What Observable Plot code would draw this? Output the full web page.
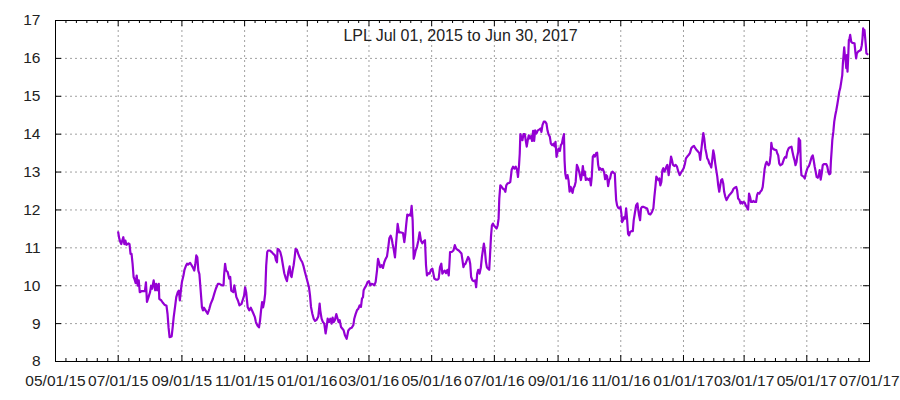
<!DOCTYPE html>
<html><head><meta charset="utf-8">
<script src="https://cdn.jsdelivr.net/npm/d3@7"></script>
<script src="https://cdn.jsdelivr.net/npm/@observablehq/plot@0.6"></script>
<style>html,body{margin:0;padding:0;background:#fff} svg{display:block}</style>
</head><body><div id="chart"></div>
<script>
const titleText = "LPL Jul 01, 2015 to Jun 30, 2017";
const startDate = "2015-07-01";
// calendar days after startDate
const days = [0,1,2,3,4,5,6,7,8,10,11,12,13,14,15,16,17,18,19,20,21,23,26,27,28,29.5,31,32,33,34.5,36,37,38,39.5,40,42,43.5,45,47,48,49,50,52,53,54,55.5,56.5,58,59,60,61,62,63.5,64.5,66,67,68,70,71,72.5,74,75,76,77,78,79,80,81.5,82.5,83.5,85,87,88.7,90,92,93.5,95,97,98.5,101,102.5,103,104,105,106.5,108,109,110,112,113,115,116.5,118,120,121,122.5,123.5,124.5,126,127.5,129,131,133,134,135.5,137,138,139,140,141,142,143,144,145,146,
147.3,149.3,150.9,152.5,153.5,154.5,155.1,156.4,157.7,159,160.3,161.6,162.9,164.2,165.5,166.8,167.8,168.7,169.7,170.7,171.7,172.6,173.9,175.2,176.5,177.8,179.1,180.4,181.7,183,184.3,185.6,186.6,187.6,188.9,190.2,191.5,193.1,194.7,196,196.6,197.9,199.2,200.5,201.8,202.8,203.8,205.1,206.4,207.7,208.6,209.6,210.9,212.2,213.5,214.5,215.5,216.8,218,219.4,220.6,222.3,223.9,225.5,227.1,228.8,229.7,231,232.3,233.6,234.9,236.2,237.2,238.2,238.8,240.1,241.4,242.7,244,245.3,246.6,247.9,249.2,250.5,251.8,252.8,253.7,255,256.3,257.6,258.9,260.2,261.5,262.8,263.8,265.1,266.1,267,268,269.3,270.3,271.2,271.9,273.2,274.5,277.1,278.4,279.4,280.3,281.3,282.3,283.6,284.5,285.5,286.5,287.5,288.4,289.4,290.7,292,293.3,294.6,295.9,297.2,
298.5,299.5,300.4,301.7,303,304.3,305.7,306.6,307.6,309.2,310.9,311.8,313.1,314.4,315.4,316.4,317.7,319,320.3,321.6,322.3,322.9,324.5,326.2,327.5,328.8,330.1,331.4,332.7,334,335,335.9,336.9,337.9,339.2,340.5,341.5,342.5,343.4,344.7,346.4,347.3,348.3,349.3,350.3,351.6,352.9,353.9,354.8,355.8,356.8,357.8,358.7,360,361,361.7,362.7,363.6,364.6,365.6,366.9,368.2,369.2,370.1,370.8,371.8,373.1,374.4,375.7,376.7,377.6,378.9,380.2,381.5,382.9,384.2,385.5,386.8,388.1,389,390,390.7,391.3,392.3,393.3,394.3,395.6,396.5,397.5,398.5,399.5,400.4,401.7,402.7,403.7,404.7,405.7,407,408.3,409.6,410.9,411.8,412.8,414.1,415.4,416.7,417.7,418.7,420,421,422.3,423.6,424.5,425.5,426.5,427.5,428.5,429.8,430.7,431.7,432.7,433.7,434.3,435,435.9,437.2,438.2,439.2,440.2,441.2,442.1,443.1,444.1,445.1,
446.3,447.6,448.9,450.2,451.1,452.1,453.1,454,455,456.3,457.6,458.9,459.9,460.8,461.8,462.8,463.8,465.1,466,467,468,468.9,470.2,471.5,472.8,473.8,474.8,475.7,476.7,477.7,478.6,479.6,480.9,482.2,483.2,483.8,484.5,485.4,486.4,487.7,488.7,489.6,490.3,491.3,492.2,493.2,494.2,495.1,496.1,497.1,498.1,499.4,500.7,501.6,502.6,503.9,505.2,505.8,506.8,507.8,508.7,509.7,511.3,513,514.6,516.2,517.8,519.4,520.7,521.7,522.7,523.6,524.6,525.6,526.5,527.5,528.5,529.5,530.4,531.4,532.4,533.3,534.3,535.6,536.9,537.9,538.8,539.8,541.1,542.4,543.7,545,546.3,547.6,548.9,550.2,551.5,552.4,553.7,555,556.3,557.6,558.9,560.2,561.5,562.8,564.1,565.4,566.3,567.3,568.3,569.3,570.2,571.2,572.2,573.1,574.1,575.1,576.1,577,578,579,579.9,580.9,581.9,582.9,583.8,584.8,585.8,586.7,587.7,588.7,589.6,590.6,591.9,593.2,594.5,595.8,
597.4,598.7,600,601.3,602.2,603.2,604.5,605.5,606.4,607.4,608.4,609.6,610.6,611.9,612.9,613.8,614.8,615.8,617.1,618,619.3,620.6,621.6,622.5,623.8,624.8,626.1,627.1,628,629,630,630.9,631.9,632.9,633.8,634.8,635.5,636.4,637.4,638.4,640.3,641.3,642.2,643.2,644.2,646.1,648,649,650,650.9,652.2,653.2,655.1,656.1,657.1,658.1,659,660,660.6,661.6,662.2,662.9,663.5,664.2,664.8,666.1,667.1,668,669,670,670.9,671.9,672.9,673.8,674.8,675.8,676.7,677.7,678.7,679.6,680.6,681.6,682.5,683.5,684.5,685.5,686.4,689,690,690.9,691.9,692.9,693.5,694.2,694.8,695.8,696.7,697.7,698.7,699.6,700.6,701.6,702.5,703.5,704.5,705.1,705.8,706.4,707.1,707.7,708.4,709,709.6,710.3,710.9,711.6,712.2,713.2,714.2,716.4,717.4,718,718.7,720,721.3,722.5,723.5,724.2,724.8,725.5,726.1,726.7,727.4,728,729];
const close = [11.41,11.25,11.16,11.10,11.2,11.28,11.1,11.19,11.08,11.12,11.1,10.84,10.84,10.58,10.23,10.16,10.07,10.27,10.0,10.14,9.83,9.86,9.86,10.09,9.57,9.7,9.83,10.0,9.92,10.14,9.88,10.05,9.88,10.05,9.65,9.61,9.55,9.5,9.47,9.26,8.9,8.64,8.66,8.9,9.17,9.48,9.7,9.83,9.87,9.61,9.87,10.1,10.27,10.42,10.53,10.58,10.56,10.6,10.56,10.49,10.4,10.56,10.8,10.75,10.4,10.31,9.96,9.43,9.35,9.42,9.35,9.26,9.39,9.52,9.65,9.79,9.92,10.05,10.05,10.01,10.01,10.27,10.58,10.4,10.36,10.19,10.23,9.87,9.83,10.01,9.7,9.61,9.48,9.52,9.61,9.74,9.96,9.83,9.43,9.35,9.42,9.3,9.17,9.04,8.95,8.9,9.08,9.35,9.57,9.43,9.57,9.79,10.53,10.89,10.93,
10.93,10.89,10.84,10.8,10.67,10.62,10.97,10.95,10.89,10.75,10.54,10.33,10.21,10.12,10.36,10.51,10.27,10.23,10.4,10.54,10.75,10.97,10.95,10.84,10.75,10.68,10.62,10.51,10.36,10.23,10.1,9.96,9.75,9.44,9.26,9.13,9.07,9.1,9.19,9.53,9.35,9.13,9.04,9.0,8.74,8.91,9.13,9.04,9.13,9.0,9.16,9.04,9.1,9.25,9.13,9.04,9.09,8.91,8.87,8.82,8.69,8.6,8.82,8.87,8.89,8.96,9.13,9.25,9.35,9.39,9.48,9.44,9.66,9.7,9.88,9.95,10.01,10.1,10.12,10.01,10.05,10.04,10.01,10.1,10.4,10.71,10.62,10.49,10.54,10.47,10.62,10.71,10.77,11.02,11.25,11.32,11.24,11.1,10.97,10.75,11.1,11.39,11.63,11.41,11.41,11.39,11.15,11.37,11.63,11.88,11.85,11.88,11.85,12.11,11.72,10.71,10.8,10.93,11.02,11.19,11.41,11.19,11.12,11.17,
11.2,10.54,10.27,10.33,10.32,10.42,10.45,10.33,10.19,10.16,10.16,10.19,10.49,10.58,10.32,10.36,10.4,10.33,10.42,10.27,10.58,10.89,10.89,10.93,11.07,10.98,10.95,10.93,10.89,10.85,10.67,10.49,10.56,10.58,10.67,10.76,10.71,10.58,10.23,10.14,10.12,10.14,9.96,10.32,10.42,10.32,10.49,10.76,10.93,11.11,10.93,10.63,10.49,10.45,10.42,10.76,11.29,11.59,11.64,11.59,11.55,11.51,11.59,11.77,12.3,12.65,12.61,12.56,12.54,12.48,12.65,12.7,12.71,12.74,13.07,13.14,13.09,13.14,13.05,12.87,13.18,13.49,14.0,13.91,13.84,14.0,14.0,13.84,13.67,13.84,13.97,13.89,13.95,13.82,14.09,13.82,14.1,14.02,14.1,14.12,14.15,14.06,14.24,14.33,14.33,14.28,14.1,14.0,13.93,13.75,13.71,13.75,13.68,13.8,13.4,13.53,13.62,13.56,13.71,13.75,13.89,14.0,13.31,12.96,12.83,12.92,12.78,12.48,12.61,12.52,12.45,12.59,12.63,12.74,
13.19,13.1,12.96,12.79,12.92,13.16,12.92,13.01,12.79,12.83,12.79,12.83,12.65,12.88,13.41,13.45,13.41,13.5,13.51,13.19,13.06,13.1,13.06,13.08,12.99,12.81,12.92,12.89,12.63,12.79,12.83,12.96,13.01,12.98,12.96,12.61,12.26,12.12,12.06,12.04,12.08,11.9,11.68,11.73,11.81,11.77,12.04,11.77,11.37,11.33,11.42,11.44,11.44,11.73,11.9,12.12,12.17,12.04,11.86,11.73,12.04,12.08,12.08,12.06,12.04,11.9,11.88,11.95,12.04,12.35,12.61,12.88,12.83,12.79,12.83,12.65,12.74,13.05,13.1,13.01,13.06,13.14,13.19,12.92,13.19,13.41,13.32,13.19,13.16,13.19,13.14,13.01,12.92,12.98,13.04,13.1,13.23,13.36,13.41,13.45,13.5,13.63,13.67,13.69,13.63,13.58,13.54,13.5,13.32,13.58,13.81,14.03,13.89,13.63,13.5,13.36,13.32,13.23,13.19,13.12,13.32,13.57,13.45,13.23,13.05,12.88,12.65,12.48,12.65,12.79,12.81,12.7,12.48,12.36,12.26,12.33,12.39,12.43,
12.48,12.56,12.59,12.61,12.52,12.3,12.26,12.17,12.21,12.17,12.21,12.19,12.12,12.06,12.01,12.43,12.34,12.21,12.21,12.24,12.21,12.21,12.39,12.45,12.43,12.48,12.52,12.61,12.83,13.09,13.21,13.27,13.21,13.18,13.22,13.44,13.77,13.62,13.62,13.59,13.58,13.49,13.44,13.22,13.18,13.21,13.36,13.4,13.38,13.53,13.62,13.65,13.67,13.53,13.4,13.31,13.18,13.27,13.4,13.53,13.89,13.67,13.84,13.14,12.92,12.89,12.87,12.83,12.96,13.05,13.12,13.15,13.22,13.31,13.4,13.44,13.31,13.14,13.0,12.87,12.85,12.89,13.05,12.8,12.96,13.18,13.21,13.21,13.14,13.0,12.94,12.96,13.31,13.58,13.84,14.06,14.33,14.5,14.63,14.77,14.94,15.12,15.21,15.38,15.56,15.87,16.09,16.29,16.04,15.96,15.74,16.09,15.65,16.04,16.48,16.53,16.62,16.44,16.41,16.4,16.13,16.0,16.13,16.18,16.2,16.22,16.35,16.53,16.79,16.66,16.75,16.57,16.35,16.13,16.11];
const xTickDates = ["2015-05-01","2015-07-01","2015-09-01","2015-11-01","2016-01-01","2016-03-01","2016-05-01","2016-07-01","2016-09-01","2016-11-01","2017-01-01","2017-03-01","2017-05-01","2017-07-01"];
const xDomain = ["2015-05-01","2017-07-01"];
const yTicks = [8,9,10,11,12,13,14,15,16,17];
const yDomain = [8,17];

const t0 = Date.parse(startDate);
const data = days.map((d, i) => ({date: new Date(t0 + d * 864e5), close: close[i]}));
const majors = xTickDates.map(s => new Date(s));
const minors = [];
for (let i = 0; i < majors.length - 1; i++) {
  const a = +majors[i], b = +majors[i + 1];
  for (let k = 1; k < 6; k++) minors.push(new Date(a + (b - a) * k / 6));
}

const W = 900, H = 400, mt = 20, mr = 31, mb = 39, ml = 55;
const fh = H - mt - mb, fw = W - ml - mr;
const grid = {stroke: "#a0a0a0", strokeOpacity: 1, strokeWidth: 1, strokeDasharray: "2,3"};

const chart = Plot.plot({
  width: W, height: H,
  marginTop: mt, marginRight: mr, marginBottom: mb, marginLeft: ml,
  style: {fontFamily: "'Liberation Sans', Arial, sans-serif", fontSize: "15.5px", color: "#000", background: "#fff"},
  x: {type: "utc", domain: xDomain.map(s => new Date(s)), label: null},
  y: {domain: yDomain, label: null},
  marks: [
    Plot.gridX(majors, grid),
    Plot.gridY(yTicks, grid),
    Plot.tickX(minors, {x: d => d, insetTop: fh - 3, stroke: "#000"}),
    Plot.tickX(minors, {x: d => d, insetBottom: fh - 3, stroke: "#000"}),
    Plot.tickX(majors, {x: d => d, insetTop: fh - 6, stroke: "#000"}),
    Plot.tickX(majors, {x: d => d, insetBottom: fh - 6, stroke: "#000"}),
    Plot.tickY(yTicks, {y: d => d, insetRight: fw - 6, stroke: "#000"}),
    Plot.tickY(yTicks, {y: d => d, insetLeft: fw - 6, stroke: "#000"}),
    Plot.axisX(majors, {tickSize: 0, tickPadding: 13, label: null, tickFormat: d3.utcFormat("%m/%d/%y"), fill: "#222"}),
    Plot.axisY(yTicks, {tickSize: 0, tickPadding: 15, label: null, fill: "#222"}),
    Plot.line(data, {x: "date", y: "close", stroke: "#9400d3", strokeWidth: 2.2}),
    Plot.frame({stroke: "#000"}),
    Plot.text([titleText], {frameAnchor: "top", dy: 9, dx: -2, text: d => d, fontSize: 16, fill: "#222"})
  ]
});
document.getElementById("chart").append(chart);
</script>
</body></html>
